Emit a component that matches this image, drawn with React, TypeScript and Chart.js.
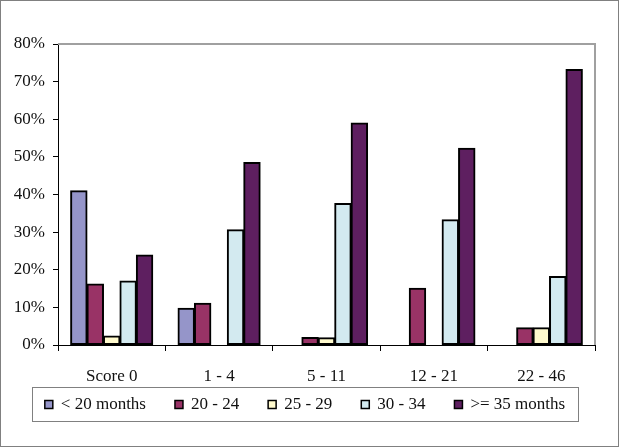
import React, { useEffect, useRef } from "react";
import { Chart, registerables } from "chart.js";

Chart.register(...registerables);

const categories = ["Score 0", "1 - 4", "5 - 11", "12 - 21", "22 - 46"];
const seriesNames = ["< 20 months", "20 - 24", "25 - 29", "30 - 34", ">= 35 months"];
const under20 = [41.0, 9.8, 0, 0, 0];
const m20to24 = [16.2, 11.1, 2.0, 15.1, 4.6];
const m25to29 = [2.4, 0, 1.9, 0, 4.6];
const m30to34 = [17.0, 30.6, 37.6, 33.3, 18.2];
const over35 = [23.9, 48.5, 59.0, 52.3, 73.2];
const seriesColors = ["#9595C9", "#993366", "#FFFACD", "#D3EAF0", "#5E1F60"];
const yMax = 80;
const yStep = 10;

const FONT = "'Liberation Serif', 'Times New Roman', serif";

const framePlugin = {
  id: "frame",
  afterDraw(chart: any) {
    const ctx = chart.ctx;
    const a = chart.chartArea;
    ctx.save();
    ctx.strokeStyle = "#A0A0A0";
    ctx.lineWidth = 2;
    ctx.beginPath();
    ctx.moveTo(a.left, a.top);
    ctx.lineTo(a.right, a.top);
    ctx.lineTo(a.right, a.bottom);
    ctx.stroke();
    ctx.strokeStyle = "#808080";
    ctx.lineWidth = 1;
    ctx.strokeRect(0.5, 0.5, chart.width - 1, chart.height - 1);

    const bx = 32, by = 387, bw = 546, bh = 34;
    ctx.strokeStyle = "#808080";
    ctx.lineWidth = 1;
    ctx.strokeRect(bx + 0.5, by + 0.5, bw, bh);
    ctx.font = `17px ${FONT}`;
    ctx.textBaseline = "middle";
    ctx.textAlign = "left";
    const markerW = 8, markerGap = 8, itemGap = 29;
    const widths = seriesNames.map((n) => ctx.measureText(n).width);
    const total =
      widths.reduce((s, w) => s + w, 0) +
      seriesNames.length * (markerW + markerGap) +
      (seriesNames.length - 1) * itemGap;
    let x = bx + (bw - total) / 2;
    const cy = by + bh / 2 + 0.5;
    seriesNames.forEach((n, i) => {
      ctx.fillStyle = seriesColors[i];
      ctx.fillRect(x, cy - 4, markerW, markerW);
      ctx.strokeStyle = "#000";
      ctx.lineWidth = 1.5;
      ctx.strokeRect(x, cy - 4, markerW, markerW);
      ctx.fillStyle = "#111";
      ctx.fillText(n, x + markerW + markerGap, cy);
      x += markerW + markerGap + widths[i] + itemGap;
    });
    ctx.restore();
  },
};

export default function App() {
  const ref = useRef<HTMLCanvasElement | null>(null);
  useEffect(() => {
    if (!ref.current) return;
    const data = [under20, m20to24, m25to29, m30to34, over35];
    const chart = new Chart(ref.current, {
      type: "bar",
      data: {
        labels: categories,
        datasets: seriesNames.map((name, i) => ({
          label: name,
          data: data[i],
          backgroundColor: seriesColors[i],
          borderColor: "#000",
          borderWidth: 2,
          borderSkipped: false,
        })),
      },
      options: {
        responsive: false,
        animation: false,
        datasets: {
          bar: {
            categoryPercentage: 0.765,
            barPercentage: 1,
            inflateAmount: 0.5,
          },
        },
        layout: { padding: { top: 44, right: 24, bottom: 62, left: 0 } },
        plugins: { legend: { display: false }, tooltip: { enabled: false } },
        scales: {
          x: {
            afterFit: (s: any) => {
              s.height = 40;
            },
            grid: {
              offset: true,
              drawOnChartArea: false,
              drawTicks: true,
              tickLength: 6,
              color: "#000",
            },
            border: { color: "#000", width: 1 },
            ticks: {
              color: "#111",
              font: { family: FONT, size: 17 },
              padding: 15,
            },
          },
          y: {
            min: 0,
            max: yMax,
            afterFit: (s: any) => {
              s.width = 58;
            },
            grid: {
              drawOnChartArea: false,
              drawTicks: true,
              tickLength: 5,
              color: "#000",
            },
            border: { color: "#000", width: 1 },
            ticks: {
              stepSize: yStep,
              color: "#111",
              font: { family: FONT, size: 17 },
              padding: 8,
              callback: (v: any) => `${v}%`,
            },
          },
        },
      },
      plugins: [framePlugin],
    });
    return () => chart.destroy();
  }, []);
  return (
    <div style={{ position: "absolute", left: 0, top: 0, width: 619, height: 447, background: "#fff" }}>
      <canvas ref={ref} width={619} height={447} style={{ display: "block" }} />
    </div>
  );
}
